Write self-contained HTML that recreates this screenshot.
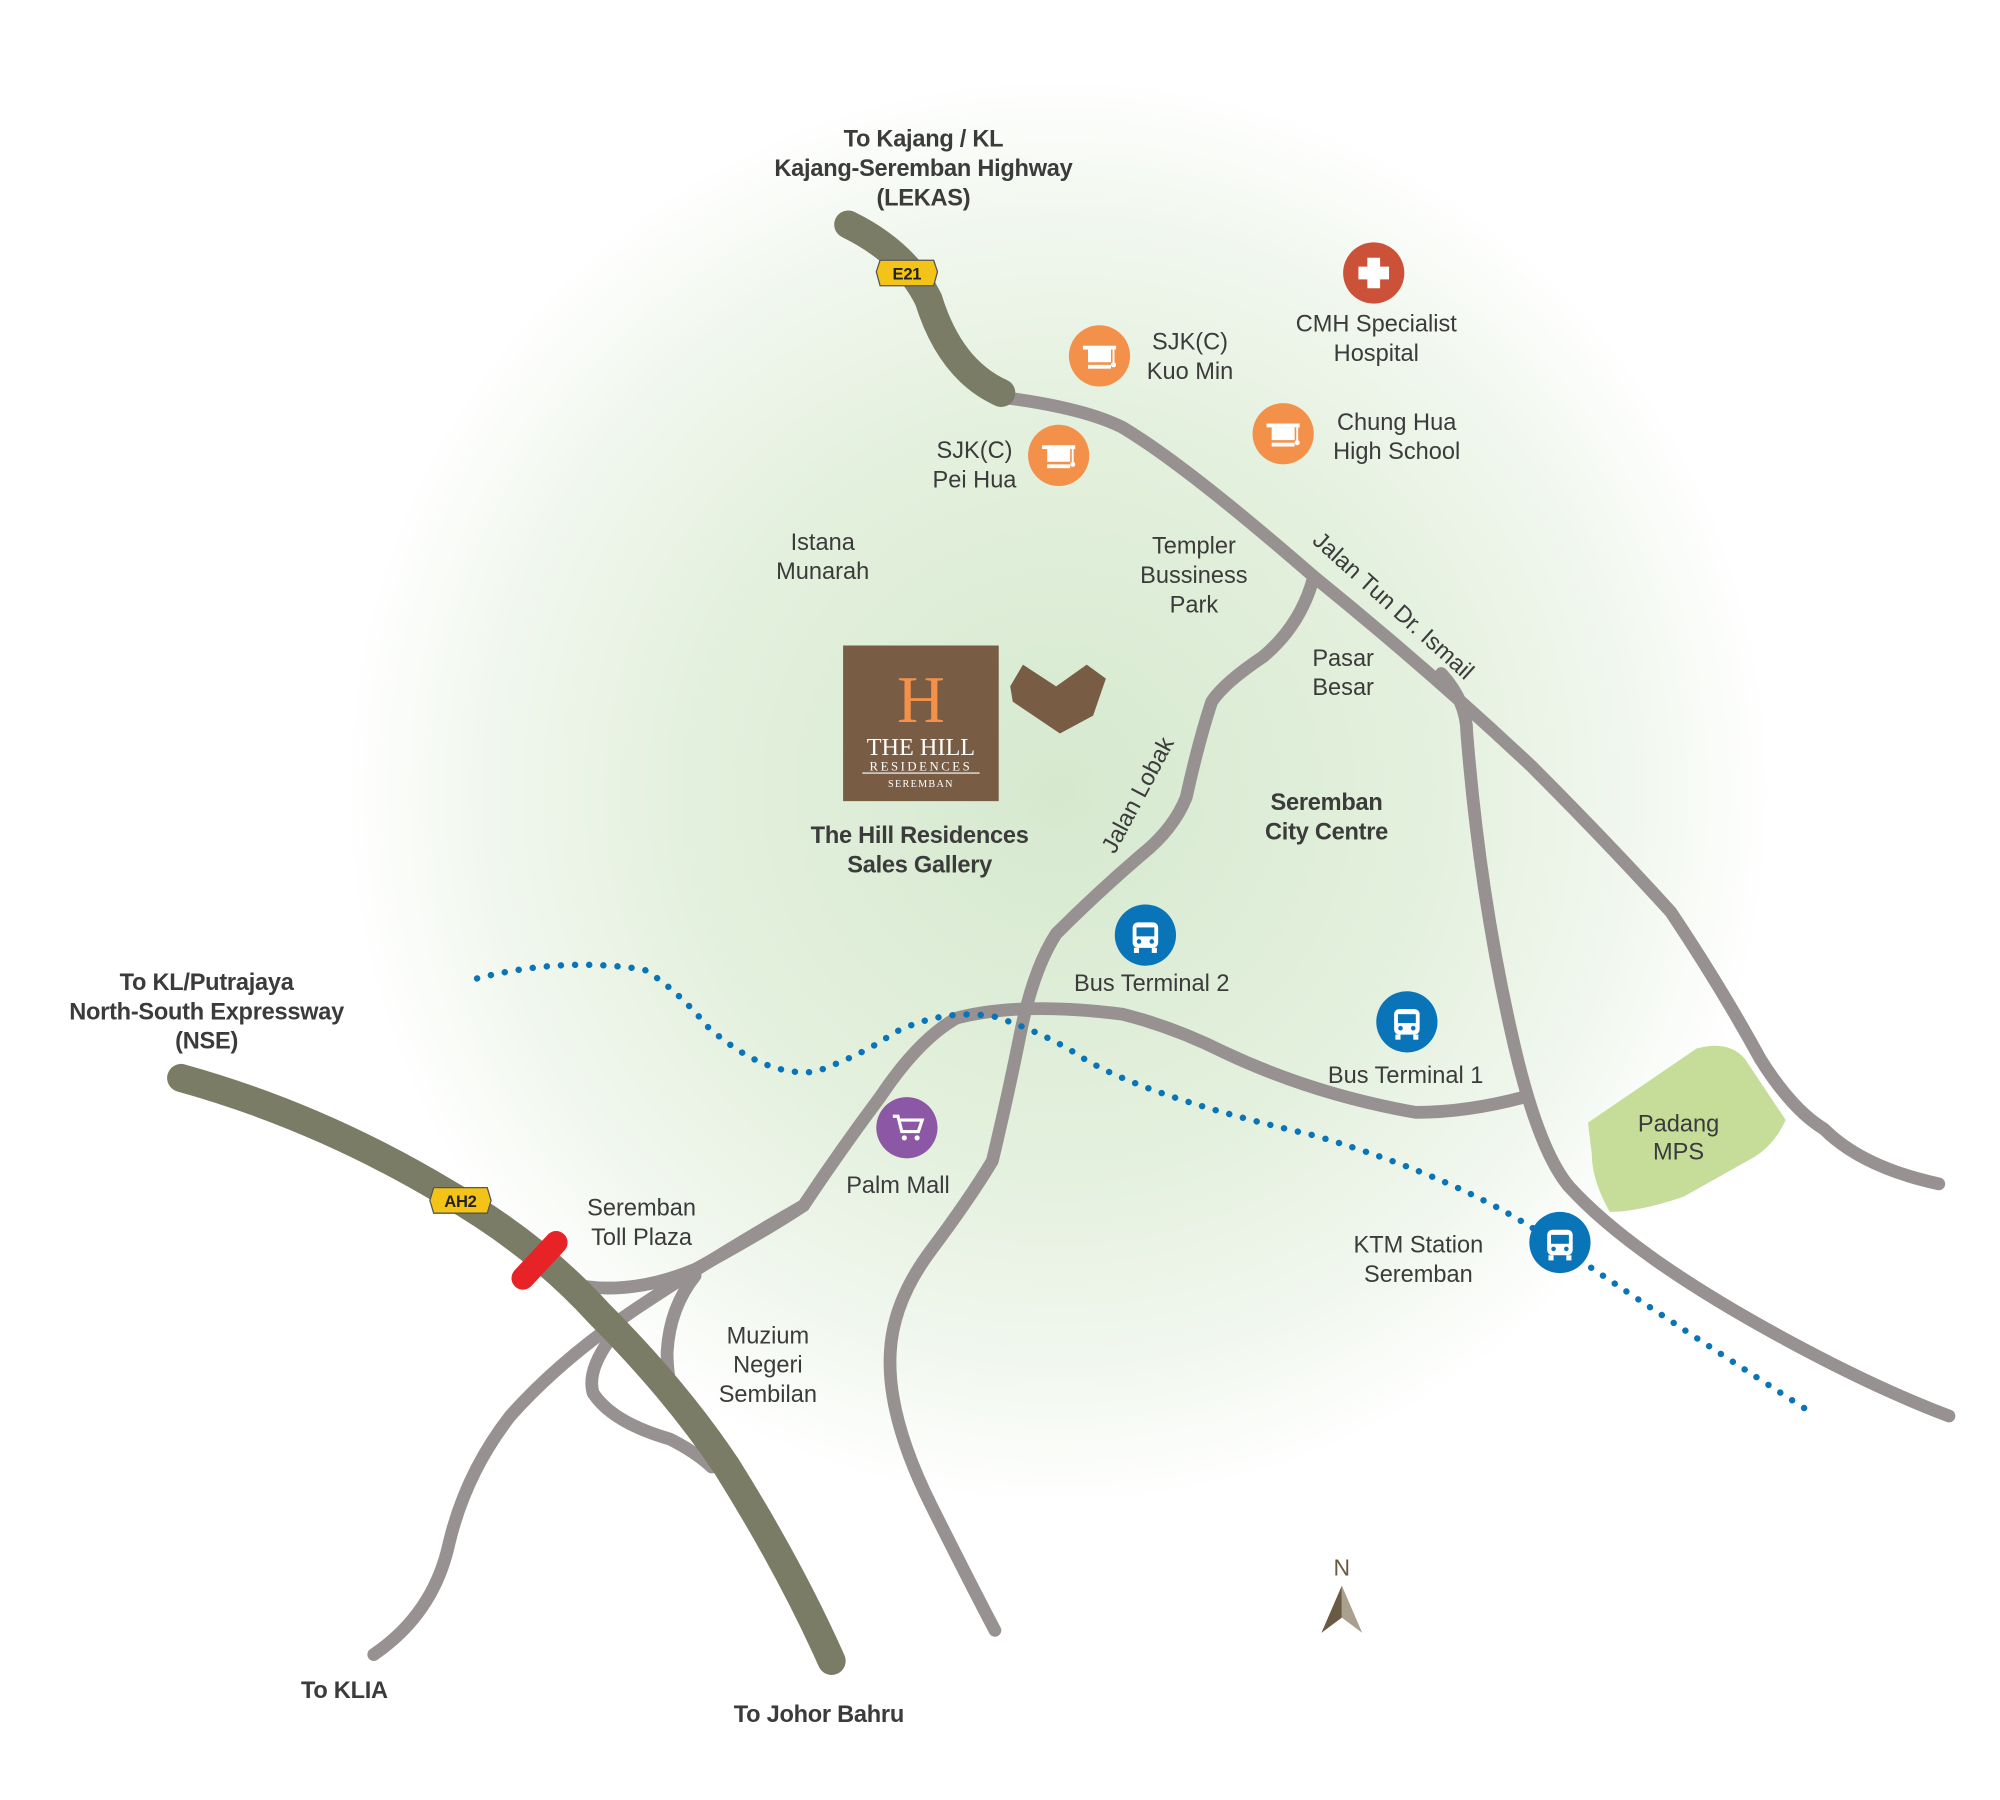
<!DOCTYPE html>
<html><head><meta charset="utf-8"><style>
html,body{margin:0;padding:0;background:#fff;}
svg{display:block;}
text{font-family:"Liberation Sans",sans-serif;fill:#3b3b3b;font-size:18.5px;}
.b{font-weight:bold;letter-spacing:-0.2px;}
</style></head><body>
<svg width="2000" height="1800" viewBox="0 0 1568 1411" preserveAspectRatio="none" xmlns="http://www.w3.org/2000/svg">
<defs>
<radialGradient id="g" cx="830" cy="620" r="560" gradientUnits="userSpaceOnUse">
<stop offset="0" stop-color="#d6e9cf"/>
<stop offset="0.5" stop-color="#e3f0dd"/>
<stop offset="0.8" stop-color="#f1f7ee"/>
<stop offset="1" stop-color="#ffffff"/>
</radialGradient>
<g id="cap"><rect x="-13" y="-9" width="26" height="3" fill="#fff"/><path d="M-9,-6 h18 v10 h-18z" fill="#fff"/><rect x="-9" y="6" width="18" height="3" fill="#fff"/><line x1="11" y1="-6" x2="11" y2="5" stroke="#fff" stroke-width="1.5"/><circle cx="11" cy="6" r="2" fill="#fff"/></g>
<g id="bus"><rect x="-10" y="-12" width="20" height="20" rx="4" fill="#fff"/><rect x="-7" y="-8" width="14" height="7" fill="#0a74b8"/><circle cx="-5" cy="3" r="1.8" fill="#0a74b8"/><circle cx="5" cy="3" r="1.8" fill="#0a74b8"/><rect x="-9" y="8" width="4" height="4" fill="#fff"/><rect x="5" y="8" width="4" height="4" fill="#fff"/></g>
</defs>
<rect width="1568" height="1411" fill="#fff"/>
<ellipse cx="830" cy="620" rx="570" ry="560" fill="url(#g)"/>
<path d="M1245,880 L1330,822 Q1355,815 1368,830 L1400,878 Q1390,900 1370,910 L1320,938 Q1285,950 1262,950 Q1248,925 1248,905 Z" fill="#c5dd98"/>
<g fill="none" stroke="#979291" stroke-width="10" stroke-linecap="round" stroke-linejoin="round">
<path d="M790,312 Q850,320 880,335 Q930,365 1030,452 Q1120,525 1200,600 Q1260,660 1310,715 Q1350,775 1380,830 Q1405,870 1430,885 Q1460,915 1520,928"/>
<path d="M1130,528 Q1150,550 1150,575 Q1160,700 1185,810 Q1205,900 1230,930 Q1280,985 1400,1050 Q1470,1088 1528,1110"/>
<path d="M1030,452 Q1020,490 990,515 Q960,535 950,550 Q940,580 930,625 Q920,650 895,670 Q860,700 828,732 Q810,760 800,810 Q790,860 778,910 Q760,940 730,980 Q700,1020 698,1060 Q695,1110 730,1180 Q760,1240 780,1278"/>
<path d="M440,1005 Q490,1018 545,995 Q600,965 630,945 Q660,900 690,860 Q720,815 750,798 Q800,785 880,795 Q920,805 960,825 Q1030,858 1110,872 Q1150,872 1195,860"/>
<path d="M630,945 Q560,985 500,1025 Q440,1065 400,1110 Q365,1155 352,1210 Q340,1265 293,1297"/>
<path d="M545,1000 Q525,1025 523,1060 Q523,1090 535,1110"/>
<path d="M478,1050 Q460,1075 465,1092 Q480,1115 525,1128 Q545,1138 558,1150"/>
</g>
<g fill="none" stroke="#7b7c66" stroke-width="22" stroke-linecap="round">
<path d="M142,845 Q250,875 350,935 Q420,975 470,1030 Q530,1090 570,1150 Q620,1230 652,1302"/>
<path d="M665,176 Q710,198 728,235 Q745,290 785,308"/>
</g>
<line x1="410" y1="1002" x2="436" y2="974" stroke="#e82328" stroke-width="18" stroke-linecap="round"/>
<path d="M690,204 L732,204 L735,213 L732,224 L690,224 L687,213 Z" fill="#f4c317" stroke="#555" stroke-width="1"/>
<text x="711" y="219" text-anchor="middle" class="b" style="font-size:13px;fill:#222">E21</text>
<path d="M340,931 L382,931 L385,941 L382,951 L340,951 L337,941 Z" fill="#f4c317" stroke="#555" stroke-width="1"/>
<text x="361" y="946" text-anchor="middle" class="b" style="font-size:13px;fill:#222">AH2</text>
<path d="M374,767 Q440,750 505,760 Q530,775 555,805 Q600,845 640,840 Q680,825 700,810 Q740,790 780,797 Q820,810 850,830 Q900,860 1030,890 Q1150,925 1220,975 Q1300,1030 1418,1106" fill="none" stroke="#0a74b8" stroke-width="5" stroke-dasharray="0.1 11" stroke-linecap="round"/>
<rect x="661" y="506" width="122" height="122" fill="#785c44"/>
<text x="722" y="566" text-anchor="middle" style="font-family:'Liberation Serif',serif;font-size:52px;fill:#f3914a">H</text>
<text x="722" y="592" text-anchor="middle" style="font-family:'Liberation Serif',serif;font-size:19px;fill:#fff">THE HILL</text>
<text x="722" y="604" text-anchor="middle" style="font-family:'Liberation Serif',serif;font-size:10px;fill:#fff;letter-spacing:2px">RESIDENCES</text>
<line x1="676" y1="606" x2="768" y2="606" stroke="#fff" stroke-width="0.8"/>
<text x="722" y="617" text-anchor="middle" style="font-family:'Liberation Serif',serif;font-size:8px;fill:#fff;letter-spacing:1px">SEREMBAN</text>
<path d="M792,538 L802,521 L828,538 L852,521 L867,532 L857,561 L831,575 L794,550 Z" fill="#785c44"/>
<circle cx="1077" cy="214" r="24" fill="#cb5239"/>
<path d="M1072,202 h10 v7 h7 v10 h-7 v7 h-10 v-7 h-7 v-10 h7z" fill="#fff"/>
<circle cx="862" cy="279" r="24" fill="#f3914a"/><use href="#cap" x="862" y="280"/>
<circle cx="830" cy="357" r="24" fill="#f3914a"/><use href="#cap" x="830" y="358"/>
<circle cx="1006" cy="340" r="24" fill="#f3914a"/><use href="#cap" x="1006" y="341"/>
<circle cx="898" cy="733" r="24" fill="#0a74b8"/><use href="#bus" x="898" y="735"/>
<circle cx="1103" cy="801" r="24" fill="#0a74b8"/><use href="#bus" x="1103" y="803"/>
<circle cx="1223" cy="974" r="24" fill="#0a74b8"/><use href="#bus" x="1223" y="976"/>
<circle cx="711" cy="884" r="24" fill="#8c57a5"/>
<path d="M700,875 h4 l3,12 h13 l3,-9 h-17" fill="none" stroke="#fff" stroke-width="2.5"/>
<circle cx="709" cy="892" r="2" fill="#fff"/><circle cx="719" cy="892" r="2" fill="#fff"/>
<path d="M1052,1243 L1036,1280 L1052,1268 Z" fill="#6a5a44"/>
<path d="M1052,1243 L1068,1280 L1052,1268 Z" fill="#aaa090"/>
<text x="1052" y="1235" text-anchor="middle" style="fill:#6a5a44;font-size:18px">N</text>
<g text-anchor="middle">
<text x="724" y="115" class="b">To Kajang / KL</text>
<text x="724" y="138" class="b">Kajang-Seremban Highway</text>
<text x="724" y="161" class="b">(LEKAS)</text>
<text x="162" y="776" class="b">To KL/Putrajaya</text>
<text x="162" y="799" class="b">North-South Expressway</text>
<text x="162" y="822" class="b">(NSE)</text>
<text x="270" y="1331" class="b">To KLIA</text>
<text x="642" y="1350" class="b">To Johor Bahru</text>
<text x="721" y="661" class="b">The Hill Residences</text>
<text x="721" y="684" class="b">Sales Gallery</text>
<text x="1040" y="635" class="b">Seremban</text>
<text x="1040" y="658" class="b">City Centre</text>
</g>
<g text-anchor="middle">
<text x="933" y="274">SJK(C)</text><text x="933" y="297">Kuo Min</text>
<text x="1079" y="260">CMH Specialist</text><text x="1079" y="283">Hospital</text>
<text x="1095" y="337">Chung Hua</text><text x="1095" y="360">High School</text>
<text x="764" y="359">SJK(C)</text><text x="764" y="382">Pei Hua</text>
<text x="645" y="431">Istana</text><text x="645" y="454">Munarah</text>
<text x="936" y="434">Templer</text><text x="936" y="457">Bussiness</text><text x="936" y="480">Park</text>
<text x="1053" y="522">Pasar</text><text x="1053" y="545">Besar</text>
<text x="903" y="777">Bus Terminal 2</text>
<text x="1102" y="849">Bus Terminal 1</text>
<text x="1316" y="887">Padang</text><text x="1316" y="909">MPS</text>
<text x="1112" y="982">KTM Station</text><text x="1112" y="1005">Seremban</text>
<text x="704" y="935">Palm Mall</text>
<text x="503" y="953">Seremban</text><text x="503" y="976">Toll Plaza</text>
<text x="602" y="1053">Muzium</text><text x="602" y="1076">Negeri</text><text x="602" y="1099">Sembilan</text>
</g>
<text transform="translate(874,670) rotate(-62)">Jalan Lobak</text>
<text transform="translate(1028,425) rotate(42)">Jalan Tun Dr. Ismail</text>
</svg>
</body></html>
